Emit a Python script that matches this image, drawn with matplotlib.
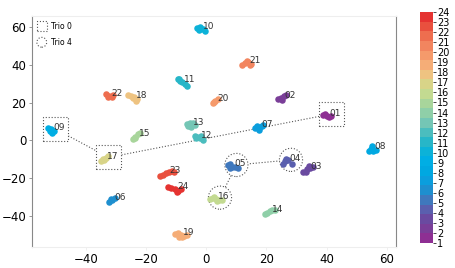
import matplotlib
matplotlib.use("Agg")
import matplotlib.pyplot as plt
import matplotlib.patches as mpatches
from matplotlib.colors import ListedColormap, Normalize
from matplotlib.legend_handler import HandlerPatch
import numpy as np

# colours of the 24 trios (1 -> 24)
trio_colors = ['#8e2f93', '#7a3e98', '#6a4aa0', '#5a5fae', '#3f78bd', '#1e8fcf',
               '#0b9edd', '#00a8e1', '#00aee4', '#0cb2d8', '#27b6c8', '#4bbdbe',
               '#74c6b5', '#8fcfa8', '#a8d59b', '#c3da91', '#d8d488', '#eec381',
               '#f5ad77', '#f59a6b', '#f2855f', '#ee6e4f', '#e9503e', '#e53331']

# embedded points per trio
x01 = [38.8, 39.5, 40.8, 41.5, 40.0]
y01 = [13.4, 14.0, 12.6, 13.0, 13.0]
x02 = [23.8, 24.8, 25.8, 26.5, 25.0]
y02 = [22.0, 22.6, 23.4, 24.0, 21.5]
x03 = [32.0, 33.0, 33.3, 34.5, 35.5, 34.0]
y03 = [-17.0, -16.5, -15.2, -14.8, -14.0, -13.8]
x04 = [25.5, 26.2, 27.0, 26.5, 28.5]
y04 = [-12.3, -11.0, -10.2, -9.6, -12.4]
x05 = [7.2, 7.8, 8.6, 9.5, 10.5, 8.0]
y05 = [-13.2, -12.6, -14.0, -14.2, -14.5, -14.4]
x06 = [-32.3, -31.5, -30.5, -31.8]
y06 = [-32.8, -31.5, -30.3, -31.0]
x07 = [16.2, 17.0, 17.6, 18.5, 19.0, 17.5]
y07 = [6.8, 7.5, 5.5, 7.6, 8.0, 6.4]
x08 = [54.0, 54.6, 55.0, 55.5, 56.5]
y08 = [-5.5, -4.5, -3.0, -5.8, -5.0]
x09 = [-52.6, -52.0, -51.2, -51.5, -50.8]
y09 = [6.5, 5.0, 4.0, 6.0, 5.2]
x10 = [-3.0, -2.0, -1.0, -0.3, -2.5]
y10 = [59.5, 60.2, 59.0, 58.3, 58.8]
x11 = [-9.5, -8.8, -8.0, -7.2, -6.5, -9.0]
y11 = [32.5, 31.8, 30.8, 30.0, 29.0, 32.8]
x12 = [-3.8, -3.0, -2.0, -1.0, -3.5, -1.8]
y12 = [2.5, 1.8, 1.2, 0.2, 1.2, 2.3]
x13 = [-6.3, -5.5, -4.5, -3.8, -5.0, -6.0]
y13 = [8.5, 9.5, 9.3, 8.0, 7.2, 7.5]
x14 = [19.5, 20.3, 21.0, 21.8, 22.7]
y14 = [-39.2, -38.5, -37.5, -36.8, -37.0]
x15 = [-24.3, -23.6, -22.8, -22.2, -23.8]
y15 = [0.8, 2.0, 3.2, 4.2, 1.2]
x16 = [1.2, 2.2, 3.2, 4.2, 5.2, 3.5, 2.5]
y16 = [-31.0, -30.7, -31.0, -31.5, -31.4, -32.3, -30.2]
x17 = [-35.0, -34.0, -33.3, -32.7, -34.5]
y17 = [-11.0, -10.5, -9.5, -8.2, -9.8]
x18 = [-26.0, -25.0, -24.0, -23.0, -23.5, -24.5]
y18 = [24.0, 23.8, 23.2, 22.0, 21.0, 22.5]
x19 = [-10.5, -9.5, -8.5, -7.5, -6.5, -9.0, -8.0]
y19 = [-49.5, -49.3, -50.0, -50.5, -50.2, -51.0, -51.3]
x20 = [2.2, 3.0, 3.8, 2.6]
y20 = [20.0, 21.0, 21.8, 20.6]
x21 = [12.0, 13.0, 14.0, 15.0, 13.5, 14.5]
y21 = [40.0, 41.0, 41.5, 40.5, 42.3, 39.8]
x22 = [-33.3, -32.5, -31.5, -32.8, -31.0]
y22 = [24.5, 23.5, 23.2, 22.8, 24.0]
x23 = [-15.5, -14.5, -13.5, -12.5, -11.5, -10.8]
y23 = [-19.0, -18.2, -17.5, -16.5, -16.0, -17.0]
x24 = [-12.8, -11.8, -10.5, -9.5, -8.5, -9.8]
y24 = [-24.6, -25.0, -25.8, -26.8, -26.0, -27.2]

xs = [x01, x02, x03, x04, x05, x06, x07, x08, x09, x10, x11, x12,
      x13, x14, x15, x16, x17, x18, x19, x20, x21, x22, x23, x24]
ys = [y01, y02, y03, y04, y05, y06, y07, y08, y09, y10, y11, y12,
      y13, y14, y15, y16, y17, y18, y19, y20, y21, y22, y23, y24]

trio0 = [9, 17, 1]   # boxes
trio4 = [16, 5, 4]   # circles

fig = plt.figure(figsize=(4.55, 2.68), dpi=100)
ax = fig.add_axes([0.070, 0.078, 0.800, 0.862])

cmap = ListedColormap(trio_colors)
norm = Normalize(1, 24)

centers = {}
for i in range(24):
    ax.scatter(xs[i], ys[i], s=22, color=trio_colors[i], linewidths=0, zorder=3)
    cx, cy = np.mean(xs[i]), np.mean(ys[i])
    centers[i + 1] = (cx, cy)
    ax.text(cx + 0.8, cy, '%02d' % (i + 1), fontsize=6.5, color='#333333', zorder=4)

# dotted boxes / circles with connecting lines
dot = dict(edgecolor='#555555', facecolor='white', linestyle=':', linewidth=0.8, zorder=2)
for k in range(len(trio0)):
    cx, cy = centers[trio0[k]]
    ax.add_patch(mpatches.Rectangle((cx + 1.4 - 4.15, cy + 0.8 - 6.4), 8.3, 12.8, **dot))
for k in range(len(trio4)):
    cx, cy = centers[trio4[k]]
    ax.add_patch(mpatches.Ellipse((cx + 1.4, cy + 0.8), 7.7, 12.3, **dot))
for trio in [trio0, trio4]:
    px = [centers[t][0] + 1.4 for t in trio]
    py = [centers[t][1] + 0.8 for t in trio]
    ax.plot(px, py, ':', color='#555555', linewidth=0.8, zorder=1)

ax.set_xlim(-58, 63)
ax.set_ylim(-56.6, 66)
ax.set_xticks([-40, -20, 0, 20, 40, 60])
ax.set_yticks([-40, -20, 0, 20, 40, 60])
ax.tick_params(labelsize=8.5, length=2.5, width=0.6, color='#888888', pad=1.5)
ax.tick_params(axis='x', color='#eeeeee')
for s in ['left', 'right']:
    ax.spines[s].set_color('#888888')
for s in ['top', 'bottom']:
    ax.spines[s].set_color('#eeeeee')


def make_circle(legend, orig_handle, xdescent, ydescent, width, height, fontsize):
    return mpatches.Ellipse((width / 2 - xdescent, height / 2 - ydescent), height, height)


def make_square(legend, orig_handle, xdescent, ydescent, width, height, fontsize):
    return mpatches.Rectangle((width / 2 - height / 2 - xdescent, -ydescent), height, height)


hs = mpatches.Rectangle((0, 0), 1, 1, edgecolor='#555555', facecolor='none', linestyle=':', linewidth=0.8)
hc = mpatches.Ellipse((0, 0), 1, 1, edgecolor='#555555', facecolor='none', linestyle=':', linewidth=0.8)
ax.legend([hs, hc], ['Trio 0', 'Trio 4'], loc='upper left', frameon=False, fontsize=5.5,
          handlelength=1.2, handleheight=1.6, handletextpad=0.6, labelspacing=0.8,
          borderaxespad=0.3,
          handler_map={hs: HandlerPatch(patch_func=make_square),
                       hc: HandlerPatch(patch_func=make_circle)})

cax = fig.add_axes([0.923, 0.093, 0.029, 0.862])
sm = plt.cm.ScalarMappable(norm=norm, cmap=cmap)
cb = fig.colorbar(sm, cax=cax, ticks=range(1, 25))
cb.outline.set_visible(False)
cb.ax.tick_params(labelsize=7, length=2, width=0.5, pad=1)

fig.savefig('out.png', dpi=100)
